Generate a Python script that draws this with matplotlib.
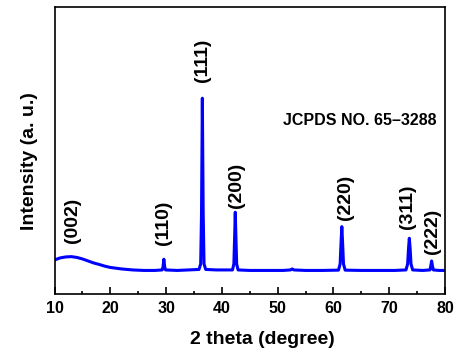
import numpy as np
import matplotlib
matplotlib.use("Agg")
import matplotlib.pyplot as plt

plt.rcParams['font.family'] = ['Liberation Sans', 'DejaVu Sans']
plt.rcParams['font.weight'] = 'bold'

# XRD trace (2 theta, intensity a.u.)
two_theta = [10, 11, 12, 13, 14, 15, 16, 17, 18, 19, 20, 22, 24, 26, 28,
             29.3, 29.45, 29.6, 29.75, 29.9, 32, 34, 35.9,
             36.2, 36.35, 36.5, 36.65, 36.8, 37.1, 39, 41.9,
             42.15, 42.3, 42.4, 42.5, 42.65, 42.9, 45, 48, 51, 52.3,
             52.6, 52.9, 55, 58, 60.9, 61.2, 61.35, 61.5, 61.65, 61.8,
             62.1, 65, 68, 71, 73.0, 73.3, 73.45, 73.6, 73.75, 73.9,
             74.2, 76, 77.3, 77.45, 77.6, 77.75, 77.9, 79, 80]
intensity = [34, 36, 37, 37.3, 36.5, 35, 33, 31, 29.5, 27.8, 26.5, 25, 24, 23.5, 23.5,
             24, 27, 34.7, 27, 24, 23.5, 24, 24.5,
             30, 80, 195.7, 80, 30, 24.5, 24, 24,
             30, 60, 81.7, 60, 30, 24, 23.5, 23.5, 23.5, 24,
             25, 24, 23.5, 23.5, 23.8, 30, 50, 67.3, 50, 30,
             23.8, 23.5, 23.5, 23.5, 24, 30, 45, 55.7, 45, 30,
             24, 23.5, 24, 28, 33, 28, 24, 23.5, 23.5]

# peak labels
hkl = ['(002)', '(110)', '(111)', '(200)', '(220)', '(311)', '(222)']
label_x = [13.3, 29.6, 36.5, 42.6, 62.1, 73.3, 77.8]
label_y = [74, 71, 234, 109, 97, 87, 63]

fig = plt.figure(figsize=(4.64, 3.62), dpi=100)
ax = fig.add_axes([0.1175, 0.188, 0.8416, 0.793])

ax.plot(two_theta, intensity, color='#0000ff', lw=2.2)

for t, x, y in zip(hkl, label_x, label_y):
    ax.text(x, y, t, rotation=90, ha='center', va='center',
            fontsize=14, fontweight='bold')

ax.text(51.0, 173, 'JCPDS NO. 65\u20133288', ha='left', va='center',
        fontsize=11.5, fontweight='bold')

ax.set_xlim(10, 80)
ax.set_ylim(0, 287)
ax.set_xticks(np.arange(10, 81, 10))
ax.set_xticks(np.arange(15, 80, 10), minor=True)
ax.set_yticks([])
ax.tick_params(axis='x', which='major', direction='in', length=5, width=1.2,
               labelsize=11.5, pad=5)
ax.tick_params(axis='x', which='minor', direction='in', length=2.5, width=1.2)
for lab in ax.get_xticklabels():
    lab.set_fontweight('bold')
for s in ax.spines.values():
    s.set_linewidth(1.2)

xl = ax.set_xlabel('2 theta (degree)', fontsize=14, fontweight='bold')
yl = ax.set_ylabel('Intensity (a. u.)', fontsize=14, fontweight='bold')
xl.set_va('center')
yl.set_va('center')
ax.xaxis.set_label_coords(0.531, -0.16)
ax.yaxis.set_label_coords(-0.065, 0.463)

fig.savefig('out.png', dpi=100)
